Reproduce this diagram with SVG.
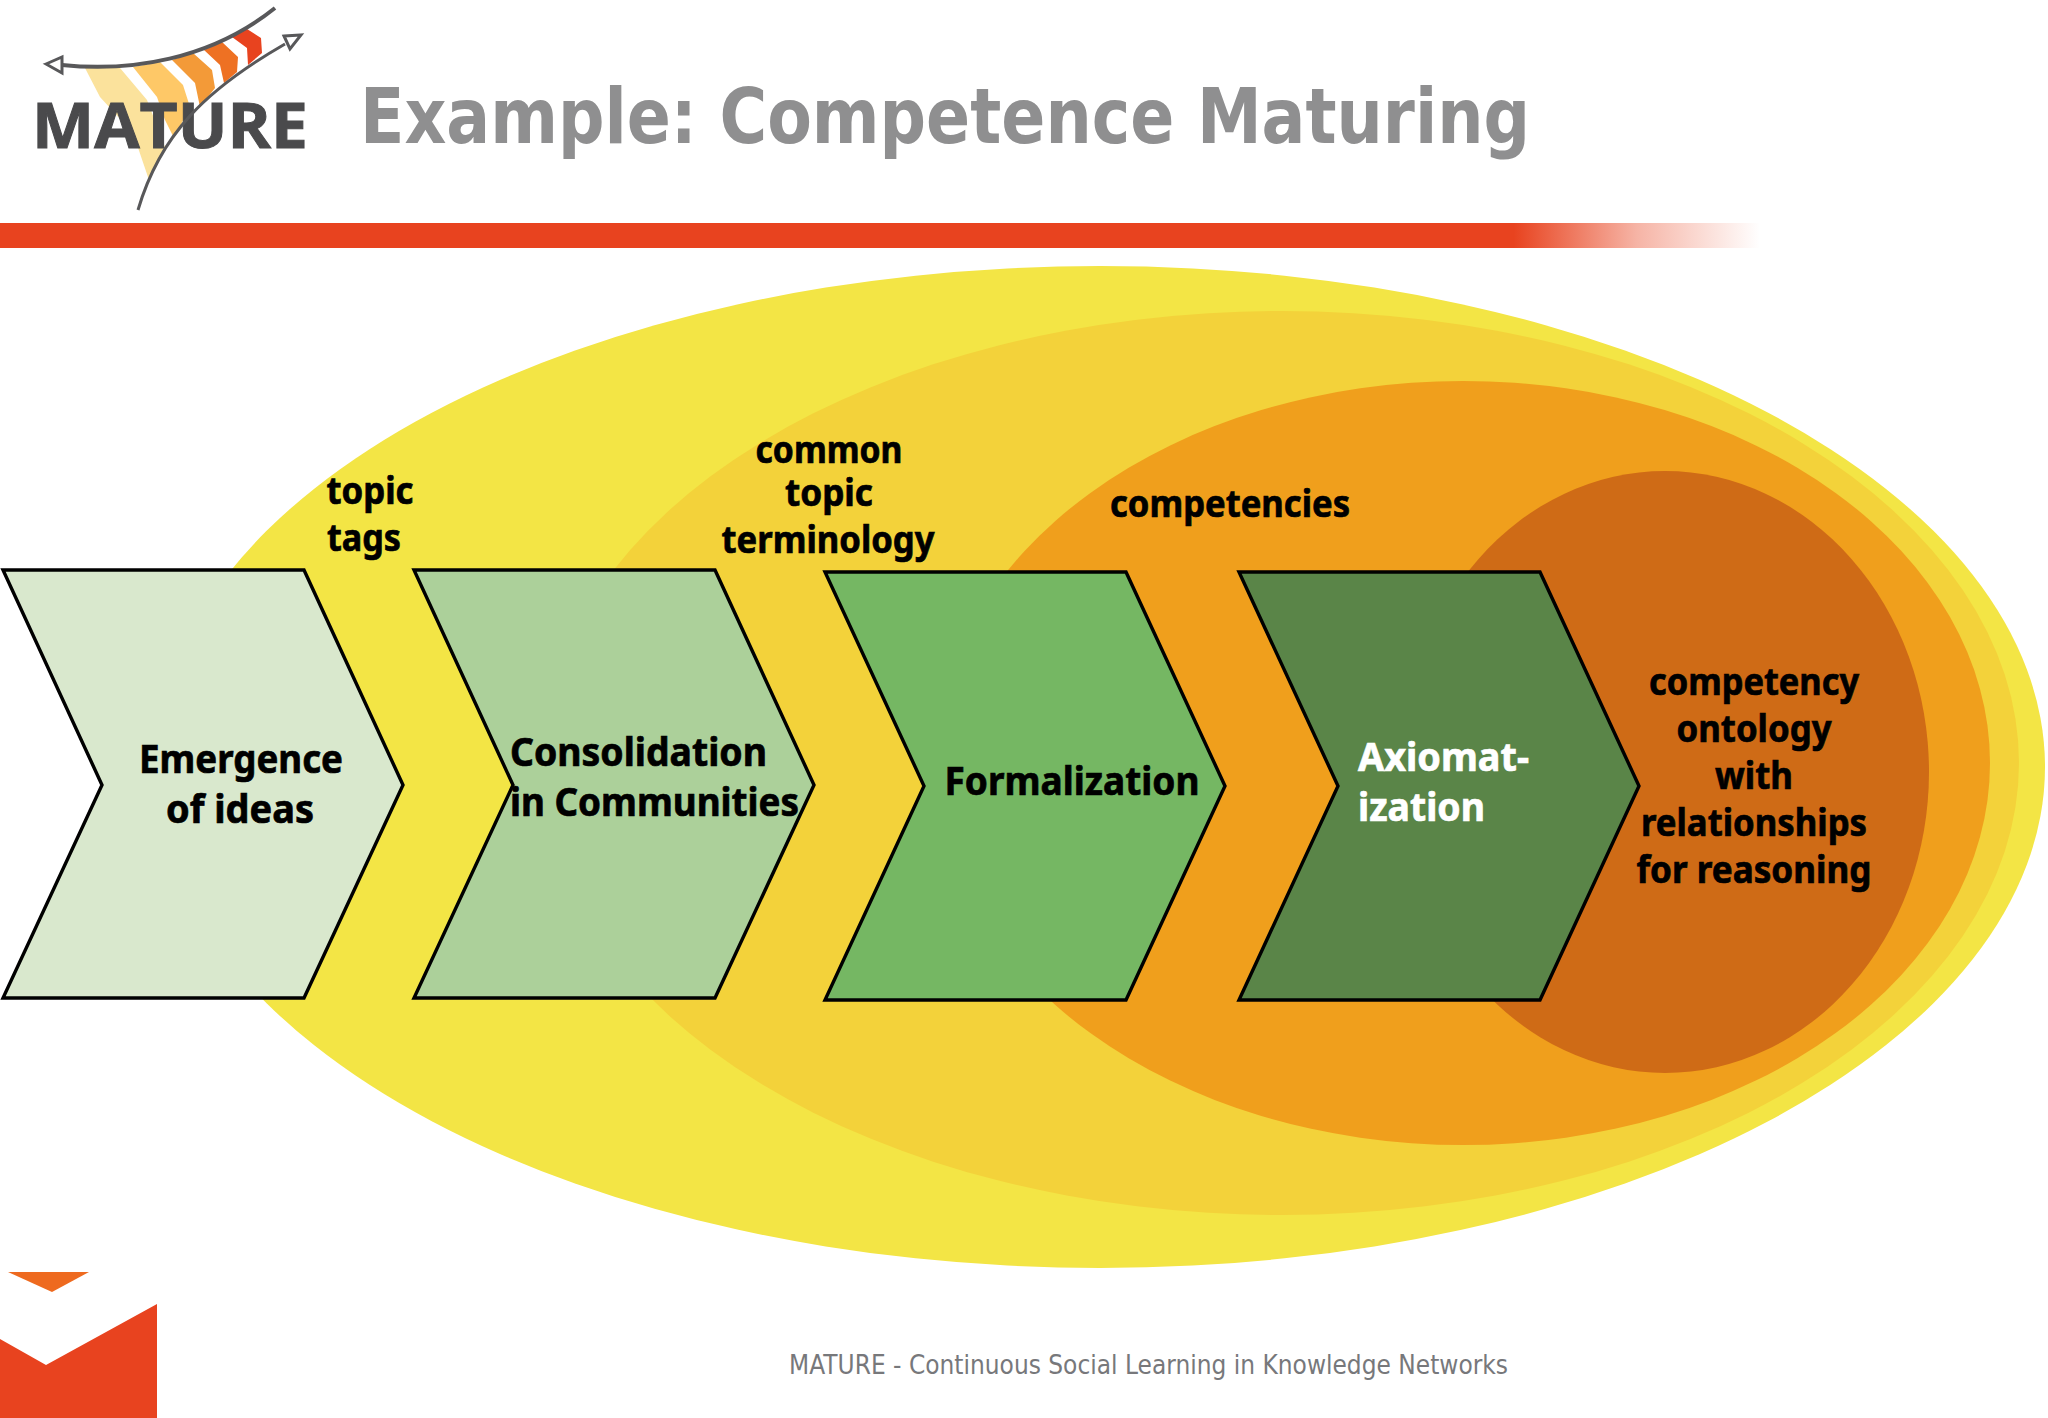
<svg xmlns="http://www.w3.org/2000/svg" width="2048" height="1418" viewBox="0 0 2048 1418">
<defs>
<linearGradient id="bar" x1="0" x2="1" y1="0" y2="0"><stop offset="0" stop-color="#e8431f"/><stop offset="0.86" stop-color="#e8431f"/><stop offset="0.93" stop-color="#e8431f" stop-opacity="0.4"/><stop offset="1" stop-color="#e8431f" stop-opacity="0"/></linearGradient>
</defs>
<style>
.l{font-family:"Noto Sans","Open Sans",sans-serif;font-weight:700;font-size:39px;fill:#000;text-anchor:middle;stroke:#000;stroke-width:.7px}
.o{font-size:37px}
.w{fill:#fff;stroke:#fff}
.c{stroke:#000;stroke-width:3.4}
.s{text-anchor:start}
</style>
<rect width="2048" height="1418" fill="#fff"/>
<g id="header">
<rect x="0" y="223" width="1760" height="25" fill="url(#bar)"/>
<text x="360" y="143" font-family="'DejaVu Sans',Verdana,sans-serif" font-weight="700" font-size="76" fill="#8f8f90" textLength="1170" lengthAdjust="spacingAndGlyphs">Example: Competence Maturing</text>
</g>
<g id="logo">
<polygon points="85,68 120,68 147,100 165,147 149,180 133,133 100,97" fill="#fbe29c"/>
<polygon points="133,67 160,62 183,85 190,107 174,138 165,120 157,97" fill="#fec867"/>
<polygon points="172,60 193,53 212,70 215,88 200,107 195,83" fill="#f39a38"/>
<polygon points="204,50 222,42 238,57 237,72 224,83 220,65" fill="#ee7123"/>
<polygon points="232,37 247,29 261,38 262,53 248,65 247,48" fill="#e8431f"/>
<text x="32" y="148" font-family="'Open Sans','Liberation Sans',sans-serif" font-weight="700" font-size="63" fill="#4a4a4c" stroke="#4a4a4c" stroke-width="1" textLength="276" lengthAdjust="spacingAndGlyphs">MATURE</text>
<g fill="none" stroke="#58585a" stroke-width="3">
<path d="M62,65C130,72 210,60 275,8" stroke-width="4"/>
<path d="M138,210C160,135 205,90 285,44"/>
<polygon points="46,64 62,57 62,73" fill="#fff"/>
<polygon points="284,36 301,35 290,49" fill="#fff"/>
</g>
</g>
<g id="ellipse-1"><ellipse cx="1100" cy="767" rx="945" ry="501" fill="#f3e545"/></g>
<g id="ellipse-2"><ellipse cx="1281" cy="763" rx="738" ry="452" fill="#f3d23a"/></g>
<g id="ellipse-3"><ellipse cx="1463" cy="763" rx="527" ry="382" fill="#f09f1c"/></g>
<g id="ellipse-4"><ellipse cx="1665" cy="772" rx="264" ry="301" fill="#cf6b16"/></g>
<g id="node-emergence">
<polygon class="c" points="3,570 304,570 403,785 304,998 3,998 102,785" fill="#d9e8cd"/>
<text class="l" x="241" y="773" textLength="204" lengthAdjust="spacingAndGlyphs">Emergence</text><text class="l" x="240" y="823" textLength="148" lengthAdjust="spacingAndGlyphs">of ideas</text>
</g>
<g id="node-consolidation">
<polygon class="c" points="414,570 715,570 814,785 715,998 414,998 513,785" fill="#acd09a"/>
<text class="l s" x="510" y="766" textLength="257" lengthAdjust="spacingAndGlyphs">Consolidation</text><text class="l s" x="510" y="816" textLength="289" lengthAdjust="spacingAndGlyphs">in Communities</text>
</g>
<g id="node-formalization">
<polygon class="c" points="825,572 1126,572 1225,786 1126,1000 825,1000 924,786" fill="#75b763"/>
<text class="l" x="1072" y="795" textLength="255" lengthAdjust="spacingAndGlyphs">Formalization</text>
</g>
<g id="node-axiomatization">
<polygon class="c" points="1239,572 1540,572 1639,786 1540,1000 1239,1000 1338,786" fill="#5a8548"/>
<text class="l s w" x="1358" y="771" textLength="171" lengthAdjust="spacingAndGlyphs">Axiomat-</text><text class="l s w" x="1358" y="821" textLength="127" lengthAdjust="spacingAndGlyphs">ization</text>
</g>
<g id="labels">
<text class="l o" x="370" y="504" textLength="87" lengthAdjust="spacingAndGlyphs">topic</text><text class="l o" x="364" y="551" textLength="74" lengthAdjust="spacingAndGlyphs">tags</text>
<text class="l o" x="829" y="463" textLength="147" lengthAdjust="spacingAndGlyphs">common</text><text class="l o" x="829" y="506" textLength="88" lengthAdjust="spacingAndGlyphs">topic</text><text class="l o" x="828" y="553" textLength="213" lengthAdjust="spacingAndGlyphs">terminology</text>
<text class="l o" x="1230" y="517" textLength="240" lengthAdjust="spacingAndGlyphs">competencies</text>
<text class="l o" x="1754" y="695" textLength="210" lengthAdjust="spacingAndGlyphs">competency</text><text class="l o" x="1754" y="742" textLength="155" lengthAdjust="spacingAndGlyphs">ontology</text><text class="l o" x="1754" y="789" textLength="78" lengthAdjust="spacingAndGlyphs">with</text><text class="l o" x="1754" y="836" textLength="226" lengthAdjust="spacingAndGlyphs">relationships</text><text class="l o" x="1754" y="883" textLength="235" lengthAdjust="spacingAndGlyphs">for reasoning</text>
</g>
<g id="connectors"></g>
<g id="footer">
<polygon points="8,1272 89,1272 52,1292" fill="#ee6a1f"/>
<polygon points="0,1339 46,1365 157,1304 157,1418 0,1418" fill="#e8431f"/>
<text x="789" y="1374" font-family="'DejaVu Sans','Noto Sans',sans-serif" font-size="26" fill="#77787b" textLength="719" lengthAdjust="spacingAndGlyphs">MATURE - Continuous Social Learning in Knowledge Networks</text>
</g>
</svg>
